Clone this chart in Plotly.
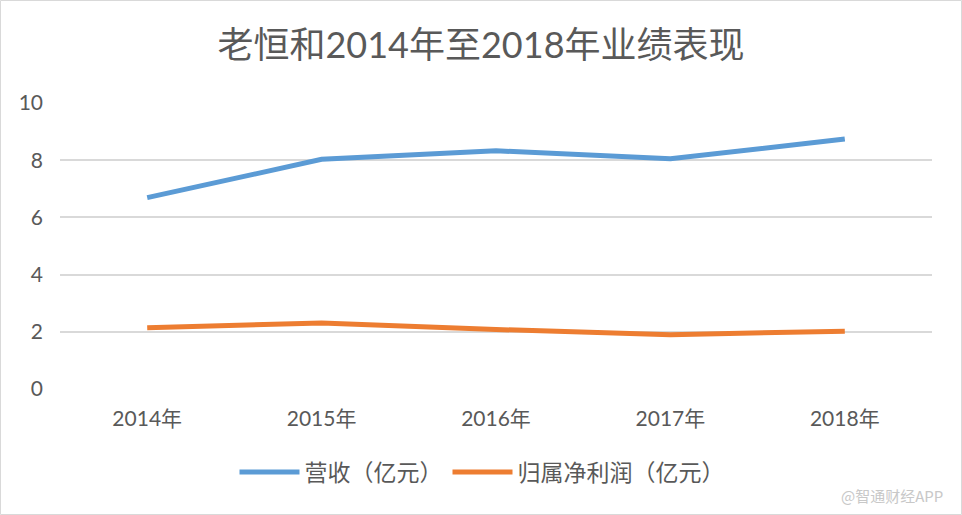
import plotly.graph_objects as go

years = ["2014年", "2015年", "2016年", "2017年", "2018年"]
revenue = [6.69, 8.03, 8.33, 8.05, 8.74]
net_profit = [2.14, 2.31, 2.08, 1.90, 2.02]
series_names = ["营收（亿元）", "归属净利润（亿元）"]
y_ticks = [0, 2, 4, 6, 8, 10]

FONT = "Lato, 'Noto Sans CJK SC', sans-serif"
TXT = "#595959"

W, H = 962, 515
ML, MR, MT, MB = 60, 30, 103, 126
PW, PH = W - ML - MR, H - MT - MB

fig = go.Figure()
fig.add_trace(go.Scatter(x=years, y=revenue, mode="lines", name=series_names[0],
                         line=dict(color="#5B9BD5", width=5, shape="linear")))
fig.add_trace(go.Scatter(x=years, y=net_profit, mode="lines", name=series_names[1],
                         line=dict(color="#ED7D31", width=5, shape="linear")))

fig.update_layout(
    width=W, height=H,
    margin=dict(l=ML, r=MR, t=MT, b=MB),
    paper_bgcolor="white", plot_bgcolor="white",
    font=dict(family=FONT, color=TXT, size=21),
    title=dict(text="老恒和2014年至2018年业绩表现", x=0.5, xanchor="center",
               y=1 - 45 / H, yanchor="middle",
               font=dict(family=FONT, size=36, color=TXT)),
    legend=dict(orientation="h", x=0.5 - 14 / PW, xanchor="center",
                y=(MT + PH - 472) / PH, yanchor="middle",
                font=dict(family=FONT, size=23, color=TXT),
                bgcolor="rgba(0,0,0,0)", itemwidth=60),
    xaxis=dict(type="category", range=[-0.5, 4.5], showgrid=False, zeroline=False,
               showline=False, ticks="", ticklabelstandoff=15,
               tickfont=dict(family=FONT, size=21, color=TXT)),
    yaxis=dict(range=[0, 10], tickvals=y_ticks, showgrid=True, gridcolor="#D9D9D9",
               gridwidth=1.5, zeroline=False, showline=False, ticks="",
               ticklabelstandoff=16, tickfont=dict(family=FONT, size=21, color=TXT)),
    showlegend=True,
)

# outer border
fig.add_shape(type="rect", xref="paper", yref="paper",
              x0=-ML / PW + 0.5 / PW, x1=1 + (MR - 0.5) / PW,
              y0=-MB / PH + 0.5 / PH, y1=1 + (MT - 0.5) / PH,
              line=dict(color="#D9D9D9", width=1), fillcolor="rgba(0,0,0,0)", layer="below")

fig.add_annotation(text="@智通财经APP", xref="paper", yref="paper",
                   x=(945 - ML) / PW, xanchor="right",
                   y=(MT + PH - 495) / PH, yanchor="middle", showarrow=False,
                   font=dict(family="'Noto Sans CJK SC', sans-serif", size=15, color="#C8C8C8"))

fig.write_html("out.html", config={"displayModeBar": False},
               post_script="document.body.style.margin='0';document.body.style.overflow='hidden';")
